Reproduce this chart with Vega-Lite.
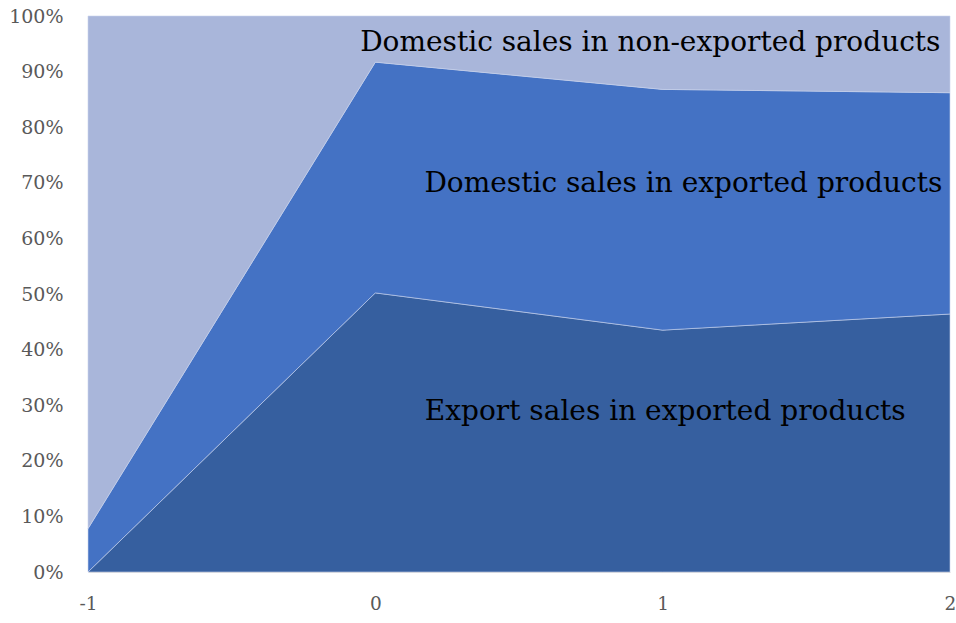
{
  "$schema": "https://vega.github.io/schema/vega-lite/v6.json",
  "width": 862,
  "height": 556,
  "autosize": "none",
  "padding": {"left": 88, "top": 16, "right": 6, "bottom": 51},
  "background": "white",
  "config": {"view": {"stroke": null}},
  "datasets": {
    "areas": [
      {"x": -1, "series": "Export sales in exported products", "k": 1, "v": 0},
      {"x": 0, "series": "Export sales in exported products", "k": 1, "v": 50.2},
      {"x": 1, "series": "Export sales in exported products", "k": 1, "v": 43.5},
      {"x": 2, "series": "Export sales in exported products", "k": 1, "v": 46.4},
      {"x": -1, "series": "Domestic sales in exported products", "k": 2, "v": 7.8},
      {"x": 0, "series": "Domestic sales in exported products", "k": 2, "v": 41.5},
      {"x": 1, "series": "Domestic sales in exported products", "k": 2, "v": 43.3},
      {"x": 2, "series": "Domestic sales in exported products", "k": 2, "v": 39.8},
      {"x": -1, "series": "Domestic sales in non-exported products", "k": 3, "v": 92.2},
      {"x": 0, "series": "Domestic sales in non-exported products", "k": 3, "v": 8.3},
      {"x": 1, "series": "Domestic sales in non-exported products", "k": 3, "v": 13.2},
      {"x": 2, "series": "Domestic sales in non-exported products", "k": 3, "v": 13.8}
    ],
    "labels": [
      {"x": 0.957, "y": 95.1, "t": "Domestic sales in non-exported products"},
      {"x": 1.072, "y": 69.8, "t": "Domestic sales in exported products"},
      {"x": 1.009, "y": 28.7, "t": "Export sales in exported products"}
    ]
  },
  "layer": [
    {
      "data": {"name": "areas"},
      "mark": {"type": "area", "stroke": "#c9d3ec", "strokeWidth": 0.6},
      "encoding": {
        "x": {
          "field": "x", "type": "quantitative",
          "scale": {"domain": [-1, 2], "nice": false, "zero": false},
          "axis": {
            "title": null, "values": [-1, 0, 1, 2], "labelExpr": "'' + datum.value",
            "grid": false, "ticks": false, "domain": true, "domainColor": "#d9d9d9",
            "labelFont": "DejaVu Serif", "labelFontSize": 18.5, "labelColor": "#595959",
            "labelPadding": 22, "labelFlush": false
          }
        },
        "y": {
          "field": "v", "type": "quantitative", "stack": "zero",
          "scale": {"domain": [0, 100], "nice": false},
          "axis": {
            "title": null, "values": [0,10,20,30,40,50,60,70,80,90,100],
            "labelExpr": "datum.value + '%'",
            "grid": false, "ticks": false, "domain": false,
            "labelFont": "DejaVu Serif", "labelFontSize": 19, "labelColor": "#595959",
            "labelPadding": 25
          }
        },
        "color": {
          "field": "series", "type": "nominal",
          "scale": {
            "domain": ["Export sales in exported products", "Domestic sales in exported products", "Domestic sales in non-exported products"],
            "range": ["#365f9f", "#4472c4", "#a9b6da"]
          },
          "legend": null
        },
        "order": {"field": "k", "type": "quantitative"}
      }
    },
    {
      "data": {"name": "labels"},
      "mark": {"type": "text", "font": "DejaVu Serif", "fontSize": 28, "color": "#000000", "align": "center", "baseline": "middle"},
      "encoding": {
        "x": {"field": "x", "type": "quantitative"},
        "y": {"field": "y", "type": "quantitative"},
        "text": {"field": "t"}
      }
    }
  ]
}
